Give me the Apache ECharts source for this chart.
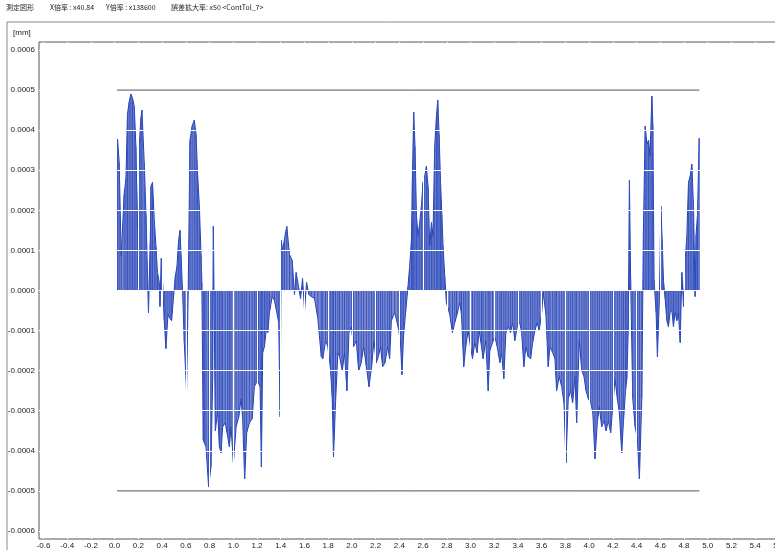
<!DOCTYPE html>
<html>
<head>
<meta charset="utf-8">
<script src="https://cdn.jsdelivr.net/npm/echarts@6/dist/echarts.min.js"></script>
<style>
html,body{margin:0;padding:0;background:#fff;}
#c{width:775px;height:550px;}
</style>
</head>
<body>
<div id="c"></div>
<script>
// Tick labels
const xTicks = [-0.6,-0.4,-0.2,0,0.2,0.4,0.6,0.8,1.0,1.2,1.4,1.6,1.8,2.0,2.2,2.4,2.6,2.8,3.0,3.2,3.4,3.6,3.8,4.0,4.2,4.4,4.6,4.8,5.0,5.2,5.4,5.6];
const yTicks = [-0.0006,-0.0005,-0.0004,-0.0003,-0.0002,-0.0001,0,0.0001,0.0002,0.0003,0.0004,0.0005,0.0006];
// Tolerance band (mm)
const tolUpper = 0.0005;
const tolLower = -0.0005;
const tolRange = [0.02, 4.93];
// Measured profile deviation: [position (mm), deviation (mm)]
const profile = [
[0.024,0.000378],[0.038,0.00032],[0.055,0.000085],[0.080,0.00024],[0.095,0.00028],[0.108,0.00044],[0.122,0.00047],[0.137,0.00049],[0.150,0.00048],[0.165,0.00046],
[0.179,0.00036],[0.193,0.00015],[0.207,0.00036],[0.221,0.00043],[0.230,0.00045],[0.249,0.00032],[0.264,0.00019],[0.277,0.00004],[0.285,-0.000055],[0.300,0.00012],
[0.306,0.00026],[0.319,0.00027],[0.334,0.000175],[0.348,0.00011],[0.361,0.000045],[0.376,0.00002],[0.382,-0.00004],[0.393,0.00008],[0.404,0.00002],[0.418,-0.000075],
[0.432,-0.000145],[0.449,-0.00006],[0.466,-0.00007],[0.480,-0.000075],[0.494,-0.000025],[0.511,0.000035],[0.525,0.00006],[0.539,0.000125],[0.551,0.00015],[0.559,0.00009],
[0.573,-0.000005],[0.587,-0.00013],[0.606,-0.00025],[0.620,0],[0.635,0.000375],[0.653,0.00041],[0.671,0.000425],[0.686,0.00039],[0.699,0.00029],[0.714,0.00021],
[0.728,0.00009],[0.735,0.00002],[0.747,-0.000373],[0.756,-0.00038],[0.770,-0.00039],[0.792,-0.00049],[0.812,-0.00044],[0.826,-0.00022],[0.832,0.00016],[0.849,-0.00035],
[0.868,-0.0003],[0.883,-0.00039],[0.897,-0.000405],[0.910,-0.00034],[0.932,-0.00033],[0.953,-0.000365],[0.967,-0.00039],[0.981,-0.00034],[1.001,-0.00043],[1.024,-0.00034],
[1.046,-0.000315],[1.066,-0.00027],[1.079,-0.00032],[1.096,-0.00047],[1.113,-0.000355],[1.136,-0.00033],[1.159,-0.00032],[1.178,-0.00024],[1.193,-0.00023],[1.212,-0.00023],
[1.226,-0.00024],[1.237,-0.00044],[1.248,-0.000155],[1.263,-0.00014],[1.277,-0.0001],[1.291,-0.000105],[1.305,-0.000055],[1.328,-0.000015],[1.347,-0.000025],[1.367,-0.000055],
[1.383,-0.00008],[1.395,-0.000315],[1.404,0.000125],[1.417,0.0001],[1.432,0.00013],[1.451,0.00016],[1.474,0.00009],[1.497,0.000075],[1.516,-0.00001],[1.530,0.000045],
[1.550,0.00001],[1.567,-0.00002],[1.584,0.00003],[1.601,-0.00005],[1.618,0.00002],[1.637,-0.00001],[1.657,-0.000015],[1.685,-0.00002],[1.713,-0.00007],[1.742,-0.000165],
[1.755,-0.00017],[1.778,-0.000125],[1.797,-0.00014],[1.818,-0.00019],[1.834,-0.000265],[1.845,-0.000415],[1.862,-0.00028],[1.882,-0.000155],[1.896,-0.000165],[1.919,-0.0002],
[1.938,-0.000155],[1.958,-0.00025],[1.975,-0.000105],[1.995,-0.00009],[2.014,-0.00014],[2.037,-0.000125],[2.057,-0.0002],[2.079,-0.00018],[2.099,-0.00014],[2.122,-0.00019],
[2.144,-0.00024],[2.166,-0.00019],[2.186,-0.000125],[2.206,-0.00018],[2.223,-0.000165],[2.242,-0.00014],[2.259,-0.00019],[2.279,-0.00018],[2.302,-0.00014],[2.318,-0.00017],
[2.333,-0.000075],[2.361,-0.000055],[2.389,-0.00009],[2.409,-0.000125],[2.422,-0.00021],[2.436,-0.00011],[2.453,-0.000055],[2.473,0.00001],[2.487,0.00006],[2.502,0.000125],
[2.510,0.000275],[2.521,0.000445],[2.532,0.00036],[2.544,0.00019],[2.557,0.000135],[2.572,0.00017],[2.586,0.00021],[2.600,0.00027],[2.614,0.000285],[2.628,0.00031],
[2.642,0.00026],[2.656,0.00011],[2.671,0.00017],[2.684,0.000135],[2.698,0.00036],[2.713,0.000435],[2.724,0.000475],[2.735,0.00039],[2.747,0.000275],[2.758,0.00019],
[2.769,0.00011],[2.783,0.000035],[2.797,-0.00003],[2.825,-0.00006],[2.848,-0.000105],[2.867,-0.00008],[2.882,-0.000065],[2.910,-0.00003],[2.924,-0.00006],[2.943,-0.00019],
[2.960,-0.00014],[2.980,-0.0001],[3.000,-0.00014],[3.017,-0.00017],[3.036,-0.00013],[3.056,-0.000155],[3.073,-0.0001],[3.093,-0.00014],[3.106,-0.00017],[3.129,-0.000125],
[3.149,-0.00025],[3.163,-0.00015],[3.186,-0.00013],[3.205,-0.000115],[3.225,-0.00014],[3.248,-0.00018],[3.262,-0.000155],[3.281,-0.00022],[3.298,-0.000105],[3.318,-0.00009],
[3.338,-0.000105],[3.355,-0.00008],[3.374,-0.000125],[3.394,-0.00009],[3.416,-0.00008],[3.431,-0.000105],[3.450,-0.00019],[3.467,-0.00014],[3.486,-0.000165],[3.507,-0.00017],
[3.524,-0.00013],[3.543,-0.0001],[3.562,-0.00008],[3.579,-0.0001],[3.600,-0.000055],[3.613,-0.000005],[3.636,-0.00006],[3.655,-0.00019],[3.670,-0.00014],[3.693,-0.000155],
[3.712,-0.00017],[3.726,-0.00025],[3.748,-0.000215],[3.769,-0.00024],[3.788,-0.00028],[3.805,-0.00043],[3.824,-0.00027],[3.845,-0.00025],[3.861,-0.00028],[3.881,-0.000215],
[3.895,-0.00033],[3.917,-0.000125],[3.938,-0.0002],[3.957,-0.000215],[3.974,-0.00025],[3.993,-0.00027],[4.014,-0.00028],[4.031,-0.000305],[4.050,-0.00042],[4.069,-0.00033],
[4.086,-0.00029],[4.106,-0.00034],[4.126,-0.000325],[4.143,-0.00035],[4.162,-0.000325],[4.182,-0.000355],[4.199,-0.00029],[4.218,-0.00022],[4.238,-0.00027],[4.255,-0.000305],
[4.275,-0.000405],[4.289,-0.00033],[4.306,-0.000255],[4.318,-0.00022],[4.330,-0.0001],[4.340,0.000275],[4.350,0.00003],[4.368,-0.00027],[4.388,-0.00034],[4.407,-0.00037],
[4.424,-0.00047],[4.444,-0.00027],[4.458,0.00015],[4.473,0.00041],[4.487,0.000365],[4.501,0.000375],[4.514,0.000335],[4.529,0.000485],[4.537,0.000415],[4.548,0.000025],
[4.565,-0.000055],[4.576,-0.000165],[4.593,-0.000015],[4.605,0.00021],[4.616,0.000125],[4.627,0.000025],[4.641,-0.00002],[4.655,-0.000075],[4.669,-0.00009],[4.683,-0.000055],
[4.698,-0.00005],[4.711,-0.00009],[4.725,-0.000055],[4.740,-0.000075],[4.753,-0.000055],[4.768,-0.00013],[4.782,0.000045],[4.796,-0.00004],[4.810,0.000075],[4.824,0.000135],
[4.838,0.00027],[4.852,0.000285],[4.866,0.000315],[4.880,0.00021],[4.894,-0.000015],[4.902,0.00014],[4.914,0.00019],[4.928,0.00038]
];

const chart = echarts.init(document.getElementById('c'), null, {renderer: 'canvas'});
const fontFam = 'Liberation Sans, Arial, sans-serif';
const cjkFam = '"Noto Sans CJK JP", sans-serif';

chart.setOption({
  animation: false,
  backgroundColor: '#fff',
  grid: {left: 39, top: 42, right: -11, bottom: 11, outerBoundsMode: 'none', containLabel: false,
         show: true, borderColor: '#555', borderWidth: 1, backgroundColor: 'transparent'},
  xAxis: {
    type: 'value', min: -0.638, max: 5.66, z: 5,
    axisLine: {show: false},
    axisTick: {show: false, customValues: xTicks},
    axisLabel: {customValues: xTicks, formatter: v => v.toFixed(1), fontSize: 8, margin: 3, color: '#222', fontFamily: fontFam},
    splitLine: {show: true, lineStyle: {color: '#ffffff', width: 1}}
  },
  yAxis: {
    type: 'value', min: -0.00062, max: 0.00062, z: 5,
    axisLine: {show: false},
    axisTick: {show: false, customValues: yTicks},
    axisLabel: {customValues: yTicks, formatter: v => v.toFixed(4), fontSize: 8, margin: 4, color: '#222', fontFamily: fontFam},
    splitLine: {show: true, lineStyle: {color: '#ffffff', width: 1}}
  },
  series: [
    {
      type: 'line', data: profile, showSymbol: false, z: 2,
      lineStyle: {color: '#2341b4', width: 1},
      areaStyle: {color: '#7b89cc', opacity: 1}
    },
    {
      type: 'bar', data: profile, barWidth: 1, z: 3,
      itemStyle: {color: '#3553c2'}
    },
    {
      type: 'line', data: [[tolRange[0], tolUpper], [tolRange[1], tolUpper]], showSymbol: false, z: 6,
      lineStyle: {color: '#555', width: 1}
    },
    {
      type: 'line', data: [[tolRange[0], tolLower], [tolRange[1], tolLower]], showSymbol: false, z: 6,
      lineStyle: {color: '#555', width: 1}
    }
  ],
  graphic: [
    {type: 'rect', shape: {x: 7, y: 22, width: 800, height: 600}, style: {fill: 'none', stroke: '#888', lineWidth: 1}, silent: true, z: -1},
    {type: 'text', left: 6, top: 4, style: {text: '測定図形', font: '7px ' + cjkFam, fill: '#222'}},
    {type: 'text', left: 50, top: 4, style: {text: 'X倍率 : x40.84', font: '7px ' + cjkFam, fill: '#222'}},
    {type: 'text', left: 106, top: 4, style: {text: 'Y倍率 : x138600', font: '7px ' + cjkFam, fill: '#222'}},
    {type: 'text', left: 171, top: 4, style: {text: '誤差拡大率: x50 <ContTol_7>', font: '7px ' + cjkFam, fill: '#222'}},
    {type: 'text', left: 13, top: 29, style: {text: '[mm]', font: '8px ' + fontFam, fill: '#222'}}
  ]
});
</script>
</body>
</html>
